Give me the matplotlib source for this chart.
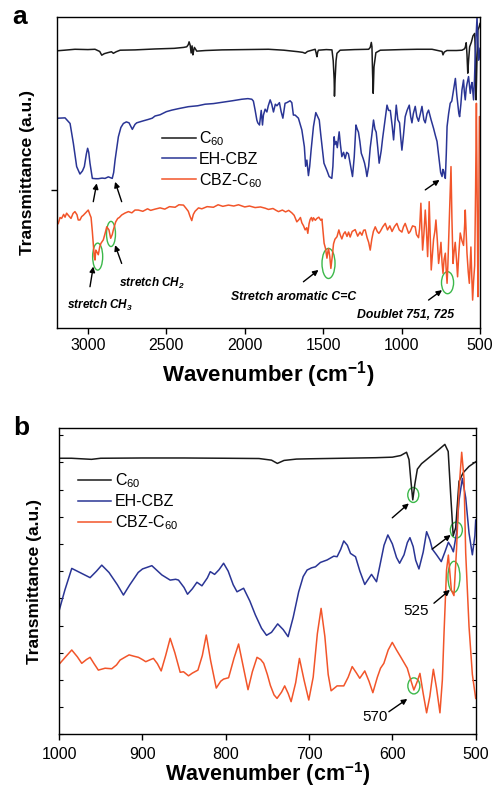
import numpy as np
import matplotlib
matplotlib.use("Agg")
import matplotlib.pyplot as plt
from matplotlib.patches import Ellipse

plt.rcParams['font.family'] = ['Liberation Sans', 'DejaVu Sans']
plt.rcParams['mathtext.default'] = 'regular'

# ---------------- panel a : 3200-500 cm-1 ----------------
wn_c60_a = [3200, 3150, 3083, 3000, 2955, 2925, 2912, 2895, 2874, 2850, 2838, 2820, 2795, 2700, 2572,
            2450, 2390, 2370, 2360, 2355, 2348, 2342, 2336, 2331, 2325, 2321, 2306, 2250, 2146, 2000,
            1849, 1750, 1658, 1630, 1615, 1600, 1551, 1545, 1540, 1535, 1530, 1480, 1444, 1436, 1430,
            1428, 1424, 1418, 1412, 1392, 1300, 1210, 1200, 1193, 1189, 1185, 1181, 1176, 1164, 1136,
            1000, 900, 806, 760, 742, 736, 728, 711, 650, 615, 600, 594, 588, 583, 578, 573, 566, 555,
            545, 534, 529, 525, 520, 513, 505, 500]
t_c60_a = [89.2, 89.4, 89.7, 89.6, 89.7, 89.0, 87.8, 88.3, 88.6, 88.9, 88.4, 88.9, 89.4, 89.5, 89.8,
           90.0, 90.3, 90.5, 91.2, 92.1, 91.0, 88.5, 90.8, 87.9, 89.5, 90.3, 89.1, 89.3, 89.5, 89.6,
           89.7, 89.4, 88.9, 88.7, 88.4, 89.0, 89.7, 88.5, 87.3, 88.8, 89.4, 89.6, 89.5, 86, 80,
           74.6, 80, 86, 88.4, 89.4, 89.6, 89.7, 90.3, 91.9, 90.5, 82, 75.5, 84, 88.6, 89.4,
           89.6, 89.7, 89.7, 89.2, 89.0, 87.9, 88.8, 89.3, 89.3, 89.4, 89.8, 90.3, 91.8, 88, 82.0, 86, 90.5, 92,
           94, 94.8, 88, 73.4, 85, 95.9, 97, 98]

wn_ehcbz_a = [3200, 3189, 3146, 3114, 3093, 3072, 3051, 3035, 3023, 3010, 3002, 2995, 2987, 2972, 2950,
              2934, 2910, 2891, 2870, 2845, 2836, 2827, 2806, 2790, 2774, 2755, 2738, 2717, 2700, 2689,
              2650, 2615, 2590, 2572, 2540, 2500, 2465, 2420, 2360, 2300, 2253, 2200, 2146, 2080, 2019,
              1980, 1955, 1945, 1934, 1923, 1917, 1906, 1900, 1895, 1887, 1881, 1870, 1859, 1850, 1838,
              1828, 1817, 1805, 1795, 1779, 1768, 1757, 1743, 1732, 1711, 1700, 1690, 1679, 1658, 1636,
              1628, 1620, 1612, 1604, 1594, 1586, 1577, 1562, 1547, 1525, 1515, 1504, 1495, 1487, 1475,
              1462, 1445, 1438, 1430, 1425, 1417, 1410, 1398, 1390, 1381, 1370, 1360, 1350, 1339, 1325,
              1313, 1302, 1291, 1283, 1275, 1266, 1257, 1245, 1236, 1228, 1221, 1210, 1200, 1190, 1179,
              1170, 1162, 1152, 1143, 1130, 1121, 1108, 1093, 1083, 1072, 1060, 1051, 1043, 1034, 1024,
              1013, 1005, 998, 988, 977, 965, 951, 942, 934, 925, 913, 903, 892, 880, 870,
              858, 849, 838, 828, 812, 796, 785, 774, 767, 760, 751, 742, 737, 732, 726,
              721, 715, 710, 700, 690, 680, 672, 665, 657, 648, 640, 635, 630, 622, 615,
              605, 600, 594, 588, 583, 573, 567, 562, 556, 551, 546, 541, 535, 530, 524,
              519, 514, 509, 504, 500]
t_ehcbz_a = [67.3, 67.5, 67.6, 65.8, 59.4, 51.9, 49.5, 50.5, 51.9, 56, 57.8, 56.5, 53.0, 48.1, 48.0,
             48.0, 48.2, 48.1, 48.6, 48.1, 50, 54.0, 61.5, 64.5, 65.8, 66.3, 66.0, 63.9, 65.5, 66.0,
             66.6, 67.1, 67.5, 68.2, 68.6, 69.6, 70.1, 70.6, 71.2, 71.5, 72.0, 72.2, 72.6, 73.1, 73.6,
             73.8, 73.6, 73.0, 70.1, 66.9, 66.0, 65.3, 68, 70, 65.3, 68.5, 70.4, 69.5, 71.5, 73.4,
             72, 69.5, 72, 71.5, 72.5, 69.6, 67.5, 72.3, 72.5, 73.1, 72.5, 68.5, 68.5, 67.5, 63.7,
             61, 58.3, 52, 54.0, 49.0, 52, 57.2, 64.8, 69.3, 66.9, 62, 57.2, 53, 52, 50.5,
             48.7, 48.1, 52, 61.5, 59, 60, 58, 63.1, 59, 55.1, 56.5, 54.5, 56.5, 56, 52,
             48.7, 55, 65.3, 64, 63, 60, 56.2, 54.5, 53.0, 51, 48.7, 52, 58, 62, 66.9,
             64, 63, 58, 53.0, 57, 61, 66, 71.7, 70, 70, 65, 60.5, 66, 71.7, 67,
             66, 61, 57.2, 62, 68, 70, 71.7, 68, 66, 69, 71.3, 68, 66.5, 69, 71.3,
             67, 66, 69, 70.1, 67, 64.2, 62, 60, 57, 54.0, 50, 48.7, 51, 50.5, 49,
             48.1, 56, 64.8, 69, 72.3, 73, 75.5, 77.5, 80.3, 75, 71.2, 69, 68.0, 72, 76.6,
             79.8, 76, 73.4, 77, 78.5, 80.9, 78, 75.5, 78, 79, 76, 73.4, 80, 88.4, 95,
             100, 93, 86.2, 88, 90]

wn_cbzc60_a = [3200, 3189, 3178, 3168, 3155, 3146, 3136, 3125, 3108, 3095, 3083, 3070, 3062, 3051, 3040,
               3030, 3015, 2998, 2988, 2980, 2972, 2966, 2960, 2955, 2950, 2944, 2934, 2925, 2917, 2902,
               2890, 2880, 2866, 2860, 2855, 2845, 2838, 2823, 2810, 2800, 2785, 2765, 2742, 2720, 2700,
               2679, 2650, 2620, 2600, 2572, 2540, 2510, 2480, 2444, 2420, 2391, 2375, 2360, 2350, 2338,
               2328, 2317, 2295, 2274, 2240, 2200, 2170, 2140, 2104, 2070, 2040, 2000, 1970, 1934, 1900,
               1870, 1849, 1820, 1800, 1785, 1760, 1740, 1720, 1700, 1685, 1668, 1655, 1645, 1636, 1625,
               1615, 1605, 1598, 1590, 1583, 1575, 1568, 1562, 1550, 1540, 1528, 1515, 1508, 1500, 1494,
               1485, 1476, 1470, 1466, 1458, 1451, 1442, 1434, 1425, 1412, 1400, 1392, 1381, 1370, 1360,
               1348, 1338, 1328, 1315, 1296, 1280, 1265, 1253, 1242, 1232, 1220, 1210, 1200, 1190, 1180,
               1168, 1155, 1145, 1136, 1120, 1104, 1090, 1075, 1061, 1045, 1030, 1015, 998, 988, 977,
               965, 955, 945, 930, 913, 905, 892, 885, 877, 872, 866, 858, 849, 842, 834,
               829, 824, 818, 811, 803, 796, 788, 781, 772, 764, 756, 749, 742, 736, 729,
               721, 716, 710, 705, 700, 692, 685, 679, 672, 665, 658, 650, 643, 635, 626,
               615, 605, 598, 594, 588, 583, 575, 568, 563, 558, 552, 547, 541, 534, 528,
               523, 518, 513, 508, 504, 500]
t_cbzc60_a = [33.0, 33.6, 35.5, 35.2, 36.5, 35.6, 36.9, 36.2, 35.2, 36.8, 37.4, 36.4, 34.7, 34.7, 35.8,
              36.2, 37.0, 37.9, 36.5, 35.5, 31, 27.2, 23, 21.8, 25, 24.5, 23.5, 26, 27.2, 28.3,
              30.5, 32.5, 31.5, 30, 28.8, 30, 31.5, 34.1, 35.2, 35.5, 36.3, 36.9, 37.4, 37.0, 37.9,
              37.9, 37.5, 38.3, 37.8, 38.2, 38.6, 38.2, 39.0, 38.8, 39.6, 39.5, 38.5, 37.5, 36, 34.5,
              36.5, 37.5, 38.6, 38.3, 39.0, 38.8, 39.6, 39.1, 39.5, 39.2, 39.6, 38.9, 39.2, 38.7, 38.9,
              38.5, 38.1, 38.4, 37.8, 37.4, 37.9, 37.3, 37.8, 37.0, 36.2, 34.1, 34.8, 35.5, 33.8, 32.8,
              31.5, 32.2, 30.4, 33.5, 34.9, 35.5, 34.4, 35.4, 34.6, 35.2, 35.6, 34.6, 35.0, 30.5, 27.2,
              25.5, 22.4, 24.5, 25.5, 23, 19.1, 23, 27, 28.5, 29.3, 31.5, 30.0, 28.6, 30.2, 30.9,
              29.4, 30.8, 29.2, 31.0, 31.6, 29.5, 30.8, 29.8, 31.4, 31.5, 29.0, 27.5, 25.0, 28.5, 31.0,
              32.5, 31.0, 30.4, 31.0, 32.5, 33.6, 31.5, 32.8, 31.0, 32.6, 33.6, 31.5, 30.8, 32.5, 33.6,
              31.8, 30.4, 31.0, 32.8, 32.5, 30.0, 29.0, 32, 40.1, 33, 25.0, 30, 37.9, 32, 22.9,
              30, 40.6, 30, 18.6, 24, 28.5, 31, 34.7, 28, 20.7, 24, 27.5, 21, 17.5, 22,
              24, 19, 14.3, 20, 28, 40, 51.9, 35, 20.7, 24.5, 27.5, 22, 16.4, 24, 30.5,
              28, 26.5, 33, 37.9, 30, 24, 18, 14.3, 20, 26, 16, 8.9, 15, 20, 45,
              72.3, 40, 10.0, 35, 68.0, 68]

# ---------------- panel b : 1000-500 cm-1 ----------------
wn_c60_b = [1000, 985, 961, 950, 900, 850, 800, 760, 745, 738, 730, 715, 700, 660, 620, 600, 590,
            583, 580, 578, 575.5, 573, 570, 565, 555, 545, 537, 533, 530, 527, 524, 520, 515, 508, 500]
t_c60_b = [10.15, 10.15, 10.11, 10.15, 10.16, 10.16, 10.15, 10.14, 10.08, 9.96, 10.07, 10.12, 10.13,
           10.15, 10.17, 10.19, 10.25, 10.37, 10.1, 9.4, 8.62, 9.2, 9.75, 9.95, 10.2, 10.45, 10.66,
           10.4, 8.8, 7.3, 7.6, 9.3, 9.62, 9.85, 10.02]

wn_ehcbz_b = [1000, 993, 984.7, 975, 962.7, 955, 948.7, 940, 930, 922.7, 915, 905, 899.8, 888.6, 876.6,
              866.6, 860, 856.6, 850, 845.8, 840, 834.5, 828.5, 822, 818.5, 813.3, 808, 802.5, 797, 791,
              786.4, 778.5, 771, 764.4, 757, 751, 745, 737.6, 731, 725.1, 719, 712.4, 707, 702.3, 697,
              692.3, 686.3, 678.3, 670.3, 666.3, 662, 658.3, 654, 650.2, 644.2, 639, 633.1, 629, 625, 619,
              615, 610, 605.4, 600, 595, 591.3, 586, 582, 578.9, 575, 572, 568.1, 563, 558.9, 555,
              552.1, 547, 541.3, 537, 532.8, 529.5, 526.8, 523, 520, 516, 512, 508, 504, 501, 500]
t_ehcbz_b = [4.53, 5.3, 6.10, 5.95, 5.76, 6.0, 6.22, 5.95, 5.5, 5.12, 5.5, 5.95, 6.08, 6.20, 5.86,
             5.67, 5.7, 5.67, 5.4, 5.15, 5.35, 5.59, 5.46, 5.75, 5.98, 5.88, 6.05, 6.29, 6.0, 5.5,
             5.24, 5.37, 4.9, 4.39, 3.9, 3.64, 3.75, 4.06, 3.85, 3.59, 4.3, 5.24, 5.8, 6.04, 6.12,
             6.16, 6.32, 6.41, 6.55, 6.53, 6.8, 7.11, 6.95, 6.65, 6.53, 6.0, 5.51, 5.7, 5.88, 5.61,
             6.2, 6.95, 7.33, 7.0, 6.5, 6.29, 6.6, 7.05, 7.23, 6.9, 6.4, 6.08, 6.7, 7.45, 7.15,
             6.81, 6.6, 6.35, 6.7, 7.06, 6.9, 6.71, 7.4, 8.6, 9.41, 8.7, 7.4, 6.6, 7.3, 7.88]

wn_cbzc60_b = [1000, 992, 984.7, 978, 972.7, 967, 962.7, 958, 952.8, 944.7, 936.7, 931, 926.7, 920, 915.9,
               910, 904.7, 900, 895.9, 890, 886.7, 882, 877.4, 872, 866.6, 861, 854.6, 850.6, 844.6, 840,
               833.3, 828, 823.3, 818, 811.3, 806, 802.5, 796.5, 790, 784.5, 779, 773.2, 768, 762.4, 758,
               754.4, 750, 746.4, 742, 738.4, 733, 729.2, 725, 721.5, 716, 711.5, 706, 700.3, 695, 690,
               685.5, 681, 677, 673.5, 666.3, 658.3, 653, 648.2, 643, 639.1, 633.1, 628, 623.4, 618, 614.2,
               610.2, 605, 600.1, 595, 590.1, 582.1, 578, 574.2, 570, 566.9, 563, 558.9, 555, 550.8, 547,
               542.9, 540, 538, 535, 532.8, 529.2, 526.1, 523, 520, 516.8, 514, 512, 508, 504, 500]
t_cbzc60_b = [2.57, 2.85, 3.10, 2.85, 2.61, 2.75, 2.83, 2.6, 2.36, 2.43, 2.41, 2.55, 2.73, 2.85, 2.92,
              2.87, 2.83, 2.75, 2.67, 2.75, 2.79, 2.6, 2.33, 2.9, 3.53, 3.0, 2.28, 2.30, 2.15, 2.25,
              2.36, 2.9, 3.65, 2.7, 1.70, 1.95, 2.03, 2.08, 2.8, 3.32, 2.5, 1.64, 2.3, 2.83, 2.75,
              2.61, 2.2, 1.80, 1.45, 1.32, 1.55, 1.78, 1.5, 1.20, 1.9, 2.79, 2.0, 1.26, 2.1, 3.7,
              4.63, 3.6, 2.2, 1.60, 1.78, 1.78, 2.1, 2.49, 2.25, 2.06, 2.33, 1.95, 1.53, 2.1, 2.43,
              2.61, 3.1, 3.38, 3.1, 2.85, 2.43, 2.0, 1.63, 1.95, 2.24, 1.5, 0.79, 1.4, 2.39, 1.7,
              0.79, 2.0, 3.72, 6.04, 6.59, 5.30, 5.10, 6.8, 9.0, 10.37, 9.4, 6.67, 3.96, 2.2, 1.32]

labels = ['C$_{60}$', 'EH-CBZ', 'CBZ-C$_{60}$']
colors = ['#1a1a1a', '#2a3595', '#f2552a']

fig = plt.figure(figsize=(4.95, 7.9), dpi=100)
ax1 = fig.add_axes([0.1143, 0.5852, 0.8554, 0.3929])
ax2 = fig.add_axes([0.1192, 0.0705, 0.8418, 0.3873])

# ---- panel a ----
ax1.plot(wn_c60_a, t_c60_a, color=colors[0], lw=1.1, label=labels[0])
ax1.plot(wn_ehcbz_a, t_ehcbz_a, color=colors[1], lw=1.1, label=labels[1])
ax1.plot(wn_cbzc60_a, t_cbzc60_a, color=colors[2], lw=1.1, label=labels[2])
ax1.set_xlim(3200, 500)
ax1.set_ylim(0, 100)
ax1.set_xticks([3000, 2500, 2000, 1500, 1000, 500])
ax1.set_yticks([44.4])
ax1.set_yticklabels([''])
ax1.tick_params(axis='both', direction='out', length=4, labelsize=11.5, width=1)
ax1.set_xlabel('Wavenumber (cm$^{-1}$)', fontsize=16, fontweight='bold', labelpad=4)
ax1.set_ylabel('Transmittance (a.u.)', fontsize=12.6, fontweight='bold', labelpad=8)
ax1.legend(loc='upper left', bbox_to_anchor=(0.235, 0.66), frameon=False, fontsize=11.5,
           handlelength=2.1, handletextpad=0.2, labelspacing=0.25, borderaxespad=0)
ax1.text(-0.105, 1.0, 'a', transform=ax1.transAxes, fontsize=19, fontweight='bold', va='center')

arrow = dict(arrowstyle='-|>', color='black', lw=1, mutation_scale=8, shrinkA=0, shrinkB=0)
green = dict(fill=False, edgecolor='#3cb84a', lw=1)
ax1.annotate('', xy=(2944, 46.5), xytext=(2966, 40.6), arrowprops=arrow)
ax1.annotate('', xy=(2827, 47.0), xytext=(2785, 40.6), arrowprops=arrow)
ax1.annotate('', xy=(2966, 19.7), xytext=(2987, 13.2), arrowprops=arrow)
ax1.annotate('', xy=(2827, 26.6), xytext=(2785, 20.7), arrowprops=arrow)
ax1.annotate('', xy=(1530, 18.6), xytext=(1626, 14.8), arrowprops=arrow)
ax1.annotate('', xy=(742, 12.1), xytext=(828, 8.9), arrowprops=arrow)
ax1.annotate('', xy=(758, 47.6), xytext=(849, 44.4), arrowprops=arrow)
ax1.add_patch(Ellipse((2938, 22.9), 64, 8.7, **green))
ax1.add_patch(Ellipse((2853, 30.2), 57, 8.1, **green))
ax1.add_patch(Ellipse((1466, 20.7), 83, 9.7, **green))
ax1.add_patch(Ellipse((707, 14.5), 77, 7.1, **green))
note = dict(fontweight='bold', style='italic', ha='center', va='center')
ax1.text(2923, 7.3, 'stretch CH$_3$', fontsize=8.5, **note)
ax1.text(2593, 14.4, 'stretch CH$_2$', fontsize=8.5, **note)
ax1.text(1690, 9.8, 'Stretch aromatic C=C', fontsize=8.8, **note)
ax1.text(977, 4.1, 'Doublet 751, 725', fontsize=8.8, **note)

# ---- panel b ----
ax2.plot(wn_c60_b, t_c60_b, color=colors[0], lw=1.1, label=labels[0])
ax2.plot(wn_ehcbz_b, t_ehcbz_b, color=colors[1], lw=1.1, label=labels[1])
ax2.plot(wn_cbzc60_b, t_cbzc60_b, color=colors[2], lw=1.1, label=labels[2])
ax2.set_xlim(1000, 500)
ax2.set_ylim(0, 11.25)
ax2.set_xticks([1000, 900, 800, 700, 600, 500])
ax2.set_yticks(np.arange(0, 12))
ax2.set_yticklabels([])
ax2.tick_params(axis='x', direction='out', length=4, labelsize=11.5, width=1, pad=5)
ax2.tick_params(axis='y', direction='in', length=3, left=True, right=True, width=0.8)
ax2.set_xlabel('Wavenumber (cm$^{-1}$)', fontsize=15.5, fontweight='bold', labelpad=-1)
ax2.set_ylabel('Transmittance (a.u.)', fontsize=12.6, fontweight='bold', labelpad=9)
ax2.legend(loc='upper left', bbox_to_anchor=(0.03, 0.88), frameon=False, fontsize=11.5,
           handlelength=2.1, handletextpad=0.2, labelspacing=0.25, borderaxespad=0)
ax2.text(-0.11, 1.0, 'b', transform=ax2.transAxes, fontsize=19, fontweight='bold', va='center')

ax2.annotate('', xy=(580.2, 8.49), xytext=(600.1, 7.96), arrowprops=arrow)
ax2.annotate('', xy=(530.0, 7.33), xytext=(552.2, 6.81), arrowprops=arrow)
ax2.annotate('', xy=(530.9, 5.31), xytext=(550.1, 4.82), arrowprops=arrow)
ax2.annotate('', xy=(582.1, 1.30), xytext=(604.2, 0.83), arrowprops=arrow)
ax2.add_patch(Ellipse((574.9, 8.80), 13.2, 0.55, **green))
ax2.add_patch(Ellipse((523.2, 7.51), 14.4, 0.59, **green))
ax2.add_patch(Ellipse((526.1, 5.79), 14.4, 1.14, **green))
ax2.add_patch(Ellipse((574.2, 1.78), 14.4, 0.59, **green))
ax2.text(556, 4.55, '525', fontsize=11, ha='right', va='center')
ax2.text(606, 0.65, '570', fontsize=11, ha='right', va='center')

for ax in (ax1, ax2):
    for s in ax.spines.values():
        s.set_linewidth(1)

fig.savefig('out.png', dpi=100)
